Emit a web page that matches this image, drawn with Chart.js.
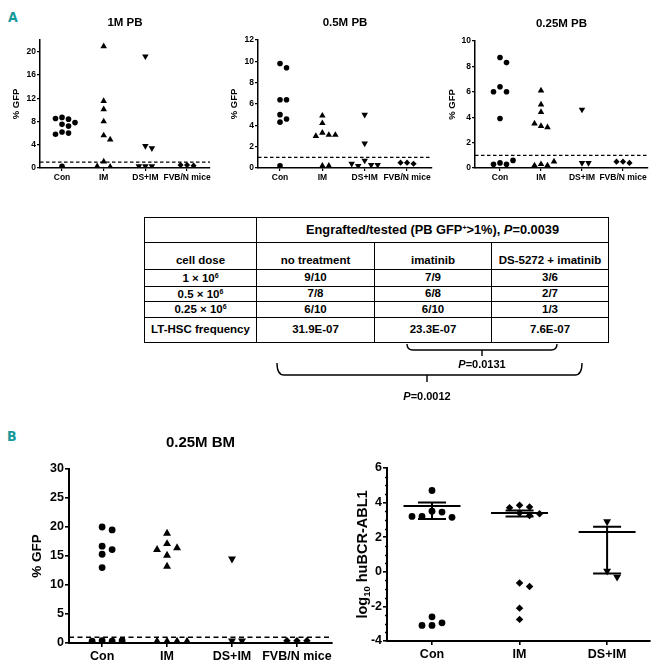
<!DOCTYPE html>
<html>
<head>
<meta charset="utf-8">
<script src="https://cdn.jsdelivr.net/npm/chart.js@4"></script>
<style>
  body { margin: 0; width: 658px; height: 668px; position: relative; background: #fff; overflow: hidden;
         font-family: "Liberation Sans", Arial, sans-serif; color: #000; }
  canvas { position: absolute; }
  .tag { position: absolute; font: bold 14px "DejaVu Sans Condensed", "Liberation Sans", sans-serif; color: #16999c; }
  table { position: absolute; left: 144px; top: 217px; width: 464px; border-collapse: collapse; table-layout: fixed;
          font-weight: bold; font-size: 11.5px; text-align: center; }
  td { border: 1.5px solid #000; padding: 0; line-height: 1; white-space: nowrap; }
  td.head { font-size: 12.8px; }
  tr.dose td { vertical-align: bottom; padding-bottom: 3px; }
  sup { font-size: 7px; vertical-align: 4px; }
  .pv { position: absolute; font-weight: bold; font-size: 11px; transform: translateX(-50%); }
  svg { position: absolute; left: 0; top: 0; }
</style>
</head>
<body>
<div class="tag" style="left:8px;top:9px">A</div>
<div class="tag" style="left:7px;top:428px">B</div>

<canvas id="pb1" width="215" height="195" style="left:0;top:0"></canvas>
<canvas id="pb05" width="220" height="195" style="left:215px;top:0"></canvas>
<canvas id="pb025" width="223" height="195" style="left:435px;top:0"></canvas>
<canvas id="bm" width="335" height="248" style="left:0;top:420px"></canvas>
<canvas id="qpcr" width="323" height="248" style="left:335px;top:420px"></canvas>

<table>
  <colgroup><col style="width:112px"><col style="width:118px"><col style="width:117px"><col style="width:117px"></colgroup>
  <tr style="height:25px"><td></td><td class="head" colspan="3">Engrafted/tested (PB GFP<sup>+</sup>&gt;1%), <i>P</i>=0.0039</td></tr>
  <tr class="dose" style="height:27px"><td>cell dose</td><td>no treatment</td><td>imatinib</td><td>DS-5272 + imatinib</td></tr>
  <tr style="height:17px"><td>1 × 10<sup>6</sup></td><td>9/10</td><td>7/9</td><td>3/6</td></tr>
  <tr style="height:15px"><td>0.5 × 10<sup>6</sup></td><td>7/8</td><td>6/8</td><td>2/7</td></tr>
  <tr style="height:16px"><td>0.25 × 10<sup>6</sup></td><td>6/10</td><td>6/10</td><td>1/3</td></tr>
  <tr style="height:25px"><td>LT-HSC frequency</td><td>31.9E-07</td><td>23.3E-07</td><td>7.6E-07</td></tr>
</table>

<svg width="658" height="420" fill="none" stroke="#000" stroke-width="1.4">
  <path d="M407,344 Q407,350 413,350 L551,350 Q557,350 557,344 M482,350 L482,356"/>
  <path d="M277,363 Q277,375 284,375 L575,375 Q582,375 582,363 M427,375 L427,382"/>
</svg>
<div class="pv" style="left:482px;top:358px"><i>P</i>=0.0131</div>
<div class="pv" style="left:427px;top:390px"><i>P</i>=0.0012</div>

<script>
// categories
const categories = ['Con', 'IM', 'DS+IM', 'FVB/N mice'];
const gfpThreshold = 1;

// % GFP in peripheral blood, 1 x 10^6 cells
const pb1Con = [8.7, 8.4, 8.5, 7.8, 7.5, 7.2, 6.2, 6.0, 5.8, 0.3];
const pb1Im = [20.9, 11.5, 10.1, 8.0, 5.6, 4.9, 1.1, 0.2, 0.3];
const pb1Ds = [19.2, 3.8, 3.4, 0.3, 0.3, 0.3];
const pb1Fvb = [0.5, 0.4, 0.5];

// 0.5 x 10^6 cells
const pb05Con = [9.8, 9.4, 6.4, 6.4, 5.0, 4.6, 4.3, 0.2];
const pb05Im = [4.9, 4.2, 3.3, 3.1, 3.0, 3.1, 0.2, 0.2];
const pb05Ds = [5.0, 2.3, 0.7, 0.3, 0.2, 0.3, 0.4];
const pb05Fvb = [0.5, 0.4, 0.5];

// 0.25 x 10^6 cells
const pb025Con = [8.7, 8.3, 6.4, 6.0, 6.0, 3.9, 0.4, 0.3, 0.3, 0.6];
const pb025Im = [6.1, 5.0, 4.4, 3.3, 3.2, 3.5, 0.3, 0.2, 0.2, 0.5];
const pb025Ds = [4.6, 0.4, 0.4];
const pb025Fvb = [0.5, 0.4, 0.5];

// % GFP in bone marrow, 0.25 x 10^6 cells
const bmCon = [20.0, 19.5, 16.7, 16.1, 15.3, 13.0, 0.4, 0.3, 0.3, 0.4];
const bmIm = [18.9, 17.1, 16.4, 16.1, 15.1, 13.2, 0.3, 0.3, 0.3, 0.3];
const bmDs = [14.5, 0.4, 0.4];
const bmFvb = [0.4, 0.4, 0.4];

// log10 huBCR-ABL1
const qCategories = ['Con', 'IM', 'DS+IM'];
const qCon = [4.7, 3.5, 3.45, 3.2, 3.15, 3.2, -2.6, -2.95, -3.1, -3.1];
const qIm = [3.85, 3.75, 3.7, 3.4, 3.35, 3.25, -0.65, -0.85, -2.1, -2.75];
const qDs = [2.9, 0.05, -0.3];
const qCenter = [3.8, 3.4, 2.3];
const qLow = [3.05, 3.2, -0.1];
const qHigh = [4.0, 3.55, 2.6];

const FONT = '"Liberation Sans", Arial, sans-serif';
const markers = [
  { style: 'circle', rot: 0, k: 1 },
  { style: 'triangle', rot: 0, k: 1.35 },
  { style: 'triangle', rot: 180, k: 1.35 },
  { style: 'rectRot', rot: 0, k: 1.1 }
];

// simple beeswarm: spread points that overlap sideways
function swarm(values, center, pxX, pxY, step, diam) {
  const placed = [];
  return values.map(v => {
    let off = 0;
    for (let k = 0; k < 40; k++) {
      const cand = k === 0 ? 0 : (k % 2 ? 1 : -1) * Math.ceil(k / 2) * step;
      const hit = placed.some(p => Math.hypot(p.ox - cand, (p.v - v) * pxY) < diam);
      if (!hit) { off = cand; break; }
    }
    placed.push({ ox: off, v });
    return { x: center + off / pxX, y: v };
  });
}

const panelTitle = {
  id: 'panelTitle',
  afterDraw(chart, args, o) {
    if (!o.text) return;
    const { ctx, chartArea } = chart;
    ctx.save();
    ctx.font = 'bold ' + o.size + 'px ' + FONT;
    ctx.fillStyle = '#000';
    ctx.textAlign = 'center';
    ctx.textBaseline = 'middle';
    ctx.fillText(o.text, (chartArea.left + chartArea.right) / 2, chartArea.top - o.dy);
    ctx.restore();
  }
};

const threshold = {
  id: 'threshold',
  beforeDatasetsDraw(chart, args, o) {
    if (o.value === undefined) return;
    const { ctx, chartArea } = chart;
    const y = chart.scales.y.getPixelForValue(o.value);
    ctx.save();
    ctx.strokeStyle = '#000';
    ctx.lineWidth = o.width;
    ctx.setLineDash(o.dash);
    ctx.beginPath();
    ctx.moveTo(chartArea.left, y);
    ctx.lineTo(chartArea.right, y);
    ctx.stroke();
    ctx.restore();
  }
};

function scatterPanel(id, groups, c) {
  const ca = { w: c.w - c.yW - c.padR, h: c.h - c.padT - c.xH };
  const pxX = ca.w / (c.xMax - c.xMin);
  const pxY = ca.h / (c.yMax - c.yMin);
  const datasets = groups.map((vals, i) => {
    const m = markers[c.markerIdx ? c.markerIdx[i] : i];
    return {
      data: swarm(vals, i + 1, pxX, pxY, c.step, c.diam),
      pointStyle: m.style,
      pointRotation: m.rot,
      pointRadius: c.r * m.k,
      backgroundColor: '#000',
      borderColor: '#000',
      borderWidth: 0
    };
  });
  const labels = c.labels;
  const tickFont = { family: FONT, weight: 'bold', size: c.fs };
  return new Chart(document.getElementById(id), {
    type: 'scatter',
    data: { datasets },
    plugins: [panelTitle, threshold].concat(c.extraPlugins || []),
    options: {
      responsive: false,
      animation: false,
      events: [],
      layout: { autoPadding: false, padding: { left: 0, top: c.padT, right: c.padR, bottom: 0 } },
      plugins: {
        legend: { display: false },
        tooltip: { enabled: false },
        panelTitle: { text: c.title, size: c.titleSize, dy: c.titleDy },
        threshold: { value: c.threshold, width: c.axisW * 0.8, dash: c.dash },
        errBars: c.errBars
      },
      scales: {
        x: {
          type: 'linear', min: c.xMin, max: c.xMax,
          afterBuildTicks: s => { s.ticks = labels.map((l, i) => ({ value: i + 1 })); },
          afterFit: s => { s.height = c.xH; },
          grid: { drawOnChartArea: false, drawTicks: true, tickLength: c.tick, color: '#000', lineWidth: c.axisW * 0.8 },
          border: { color: '#000', width: c.axisW },
          ticks: { callback: v => labels[v - 1], font: tickFont, color: '#000', padding: 2, maxRotation: 0, autoSkip: false }
        },
        y: {
          min: c.yMin, max: c.yMax,
          afterBuildTicks: s => {
            const t = [];
            for (let v = c.yMin; v <= c.yMax + 1e-9; v += c.yStep) t.push({ value: v });
            s.ticks = t;
          },
          afterFit: s => { s.width = c.yW; },
          grid: { drawOnChartArea: false, drawTicks: true, tickLength: c.tick, color: '#000', lineWidth: c.axisW * 0.8 },
          border: { color: '#000', width: c.axisW },
          ticks: { font: tickFont, color: '#000', padding: 1 },
          title: { display: !!c.yTitle, text: c.yTitle, font: { family: FONT, weight: 'bold', size: c.yTitleSize }, color: '#000', padding: { top: c.yTitlePad, bottom: 0 } }
        }
      }
    }
  });
}

const topCommon = {
  h: 195, padT: 40, xH: 27, yMin: 0, fs: 8.5, tick: 3, axisW: 1.5, r: 2.8, step: 6.5, diam: 6,
  threshold: gfpThreshold, dash: [3.5, 2.5], labels: categories, titleSize: 11.5, titleDy: 17,
  yTitle: '% GFP', yTitleSize: 9.5
};

scatterPanel('pb1', [pb1Con, pb1Im, pb1Ds, pb1Fvb], Object.assign({}, topCommon, {
  w: 215, yW: 40, padR: 5, xMin: 0.472, xMax: 4.55, yMax: 22, yStep: 4, title: '1M PB', yTitlePad: 11
}));
scatterPanel('pb05', [pb05Con, pb05Im, pb05Ds, pb05Fvb], Object.assign({}, topCommon, {
  w: 220, yW: 43, padR: 3, xMin: 0.48, xMax: 4.59, yMax: 12, yStep: 2, title: '0.5M PB', yTitlePad: 14
}));
scatterPanel('pb025', [pb025Con, pb025Im, pb025Ds, pb025Fvb], Object.assign({}, topCommon, {
  w: 223, yW: 40, padR: 10, padT: 41, xMin: 0.39, xMax: 4.61, yMax: 10, yStep: 2, title: '0.25M PB', yTitlePad: 12
}));

scatterPanel('bm', [bmCon, bmIm, bmDs, bmFvb], {
  w: 335, h: 248, yW: 69, padR: 3, padT: 49, xH: 25, xMin: 0.49, xMax: 4.54, yMin: 0, yMax: 30, yStep: 5,
  fs: 12.5, tick: 4, axisW: 2, r: 3.4, step: 10, diam: 7.5, threshold: gfpThreshold, dash: [5, 3.5],
  labels: categories, title: '0.25M BM', titleSize: 15, titleDy: 26,
  yTitle: '% GFP', yTitleSize: 13.5, yTitlePad: 29
});

// median / range bars plus log10 y title with subscript
const errBars = {
  id: 'errBars',
  afterDatasetsDraw(chart, args, o) {
    if (!o) return;
    const { ctx, scales: { x, y } } = chart;
    ctx.save();
    ctx.strokeStyle = '#000';
    ctx.lineWidth = 2;
    o.center.forEach((m, i) => {
      const cx = x.getPixelForValue(i + 1);
      const ym = y.getPixelForValue(m), yl = y.getPixelForValue(o.low[i]), yh = y.getPixelForValue(o.high[i]);
      ctx.beginPath();
      ctx.moveTo(cx - 28.5, ym); ctx.lineTo(cx + 28.5, ym);
      ctx.moveTo(cx - 14, yl); ctx.lineTo(cx + 14, yl);
      ctx.moveTo(cx - 14, yh); ctx.lineTo(cx + 14, yh);
      ctx.moveTo(cx, yl); ctx.lineTo(cx, yh);
      ctx.stroke();
    });
    // minor ticks
    ctx.lineWidth = 1.5;
    ctx.beginPath();
    for (let v = y.min; v < y.max; v += 0.5) {
      if (Math.abs(v % 2) < 1e-9) continue;
      const py = Math.round(y.getPixelForValue(v)) + 0.5;
      ctx.moveTo(x.left - 2, py); ctx.lineTo(x.left, py);
    }
    ctx.stroke();
    // y title
    const cy = (chart.chartArea.top + chart.chartArea.bottom) / 2;
    ctx.translate(28, cy);
    ctx.rotate(-Math.PI / 2);
    ctx.fillStyle = '#000';
    ctx.textBaseline = 'middle';
    const big = 'bold 14.5px ' + FONT, small = 'bold 9.5px ' + FONT;
    ctx.font = big; const w1 = ctx.measureText('log').width, w3 = ctx.measureText(' huBCR-ABL1').width;
    ctx.font = small; const w2 = ctx.measureText('10').width;
    let sx = -(w1 + w2 + w3) / 2;
    ctx.font = big; ctx.fillText('log', sx, 0); sx += w1;
    ctx.font = small; ctx.fillText('10', sx, 4.5); sx += w2;
    ctx.font = big; ctx.fillText(' huBCR-ABL1', sx, 0);
    ctx.restore();
  }
};

scatterPanel('qpcr', [qCon, qIm, qDs], {
  w: 323, h: 248, yW: 52, padR: 8, padT: 48, xH: 27, xMin: 0.486, xMax: 3.49, yMin: -4, yMax: 6, yStep: 2,
  fs: 12.5, tick: 4, axisW: 2, r: 3.4, step: 10, diam: 7.5, dash: [5, 3.5],
  labels: qCategories, markerIdx: [0, 3, 2], extraPlugins: [errBars],
  errBars: { center: qCenter, low: qLow, high: qHigh }
});
</script>
</body>
</html>
